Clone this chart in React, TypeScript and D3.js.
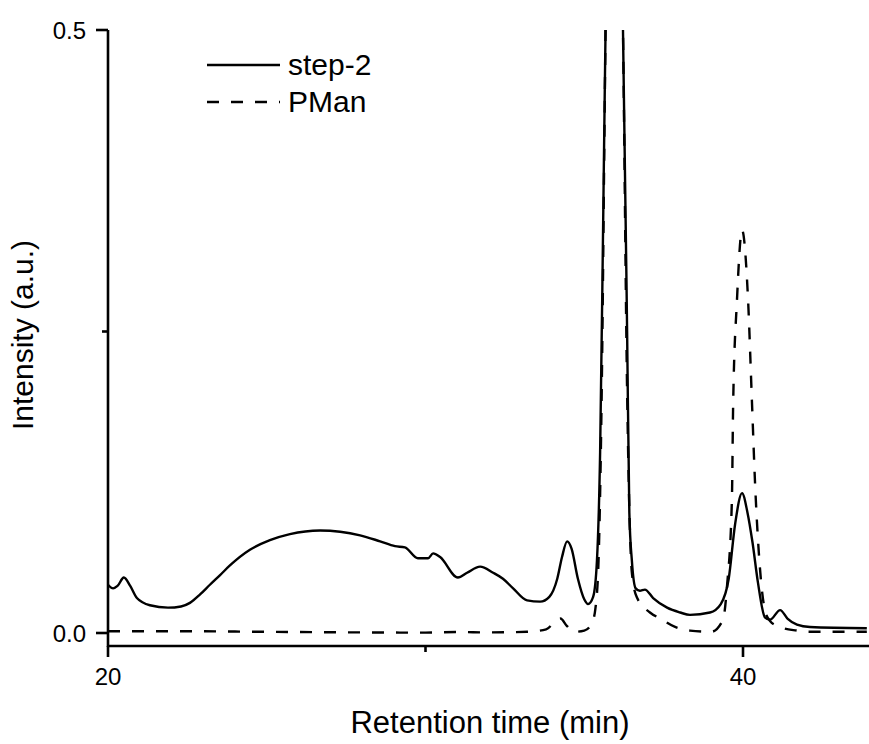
import React from "react";
import * as d3 from "d3";

const step2: [number, number][] = [
  [20.0, 0.04], [20.16, 0.037], [20.3, 0.039], [20.5, 0.046], [20.7, 0.039],
  [20.91, 0.029], [21.32, 0.023], [21.89, 0.021], [22.3, 0.022], [22.58, 0.025],
  [22.9, 0.032], [23.21, 0.04], [23.53, 0.048], [23.84, 0.056], [24.47, 0.069],
  [25.1, 0.077], [25.73, 0.082], [26.68, 0.085], [27.31, 0.084], [27.94, 0.081],
  [28.57, 0.076], [29.04, 0.072], [29.35, 0.071], [29.76, 0.062], [30.08, 0.062],
  [30.24, 0.066], [30.46, 0.063], [31.02, 0.046], [31.31, 0.05], [31.72, 0.055],
  [32.13, 0.05], [32.44, 0.045], [32.76, 0.037], [33.2, 0.027], [33.61, 0.026],
  [33.9, 0.03], [34.15, 0.045], [34.3, 0.063], [34.46, 0.076], [34.6, 0.07],
  [34.8, 0.045], [35.0, 0.028], [35.12, 0.024], [35.28, 0.03], [35.4, 0.06],
  [35.5, 0.15], [35.6, 0.35], [35.72, 0.6], [35.94, 0.8], [36.12, 0.62],
  [36.22, 0.5], [36.35, 0.25], [36.42, 0.1], [36.5, 0.06], [36.62, 0.037],
  [36.75, 0.035], [36.91, 0.036], [37.17, 0.029], [37.61, 0.021], [38.02, 0.017],
  [38.33, 0.015], [38.96, 0.017], [39.3, 0.024], [39.55, 0.045], [39.75, 0.09],
  [39.97, 0.116], [40.14, 0.1], [40.3, 0.075], [40.47, 0.042], [40.69, 0.013],
  [40.85, 0.011], [41.17, 0.019], [41.4, 0.012], [41.7, 0.007], [42.11, 0.005],
  [43.9, 0.004],
];

const pman: [number, number][] = [
  [20.0, 0.0015], [22.0, 0.0015], [24.0, 0.0012], [26.0, 0.0008], [28.0, 0.0005],
  [30.0, 0.0003], [31.0, 0.0008], [32.0, 0.0005], [33.2, 0.001], [33.8, 0.003],
  [34.1, 0.01], [34.25, 0.012], [34.45, 0.006], [34.7, 0.001], [35.0, 0.002],
  [35.24, 0.008], [35.35, 0.02], [35.45, 0.06], [35.55, 0.2], [35.65, 0.45],
  [35.8, 0.8], [35.95, 0.9], [36.1, 0.7], [36.22, 0.5], [36.35, 0.2],
  [36.5, 0.05], [36.65, 0.03], [37.07, 0.017], [37.39, 0.012], [37.86, 0.005],
  [38.33, 0.002], [39.0, 0.001], [39.37, 0.011], [39.5, 0.04], [39.65, 0.11],
  [39.69, 0.19], [39.81, 0.276], [39.97, 0.334], [40.16, 0.276], [40.28, 0.193],
  [40.38, 0.124], [40.53, 0.055], [40.69, 0.019], [40.85, 0.01], [41.17, 0.005],
  [41.7, 0.002], [42.0, 0.001], [43.9, 0.001],
];

const xMajorTicks = [20, 40];
const xMinorTicks = [30];
const yMajorTicks = [0, 0.5];
const yMinorTicks = [0.25];
const legendLabels = ["step-2", "PMan"];

const W = 869;
const H = 744;
const FONT = "'Liberation Sans', Arial, sans-serif";
const DASH = "12,12";

export default function App() {
  const x = d3.scaleLinear().domain([20, 44]).range([108, 870]);
  const y = d3.scaleLinear().domain([0, 0.5]).range([633, 30]);
  const axisY = 646;
  const left = 108;
  const top = 30;

  const line = d3
    .line<[number, number]>()
    .x((d) => x(d[0]))
    .y((d) => y(d[1]))
    .curve(d3.curveMonotoneX);

  return (
    <svg
      width={W}
      height={H}
      style={{ position: "absolute", left: 0, top: 0, background: "#fff" }}
      fontFamily={FONT}
    >
      <defs>
        <clipPath id="plot">
          <rect x={left} y={top} width={W - left} height={axisY - top} />
        </clipPath>
      </defs>
      <g clipPath="url(#plot)" fill="none" stroke="#000" strokeWidth={2.4} strokeLinejoin="round">
        <path d={line(pman) || ""} strokeDasharray={DASH} />
        <path d={line(step2) || ""} />
      </g>
      <g stroke="#000" strokeWidth={2.6} fill="none">
        <line x1={left} y1={top} x2={left} y2={axisY + 1} />
        <line x1={left} y1={axisY} x2={W} y2={axisY} />
        {xMajorTicks.map((t) => (
          <line key={"xm" + t} x1={x(t)} x2={x(t)} y1={axisY} y2={axisY + 11} />
        ))}
        {xMinorTicks.map((t) => (
          <line key={"xn" + t} x1={x(t)} x2={x(t)} y1={axisY} y2={axisY + 6} />
        ))}
        {yMajorTicks.map((t) => (
          <line key={"ym" + t} x1={left - 12} x2={left} y1={y(t)} y2={y(t)} />
        ))}
        {yMinorTicks.map((t) => (
          <line key={"yn" + t} x1={left - 6} x2={left} y1={y(t)} y2={y(t)} />
        ))}
      </g>
      <g fontSize={24} fill="#000">
        {xMajorTicks.map((t) => (
          <text key={"xl" + t} x={x(t)} y={685} textAnchor="middle">
            {String(t)}
          </text>
        ))}
        {yMajorTicks.map((t) => (
          <text key={"yl" + t} x={86} y={y(t) + 8.5} textAnchor="end">
            {d3.format(".1f")(t)}
          </text>
        ))}
      </g>
      <text x={490} y={733} fontSize={31} textAnchor="middle" fill="#000">
        Retention time (min)
      </text>
      <text
        transform={`translate(33,335) rotate(-90)`}
        fontSize={30}
        textAnchor="middle"
        fill="#000"
      >
        Intensity (a.u.)
      </text>
      <g stroke="#000" strokeWidth={2.4}>
        <line x1={207} x2={280} y1={65} y2={65} />
        <line x1={207} x2={280} y1={102} y2={102} strokeDasharray={DASH} />
      </g>
      <g fontSize={30} fill="#000">
        <text x={288} y={75}>{legendLabels[0]}</text>
        <text x={288} y={112}>{legendLabels[1]}</text>
      </g>
    </svg>
  );
}
